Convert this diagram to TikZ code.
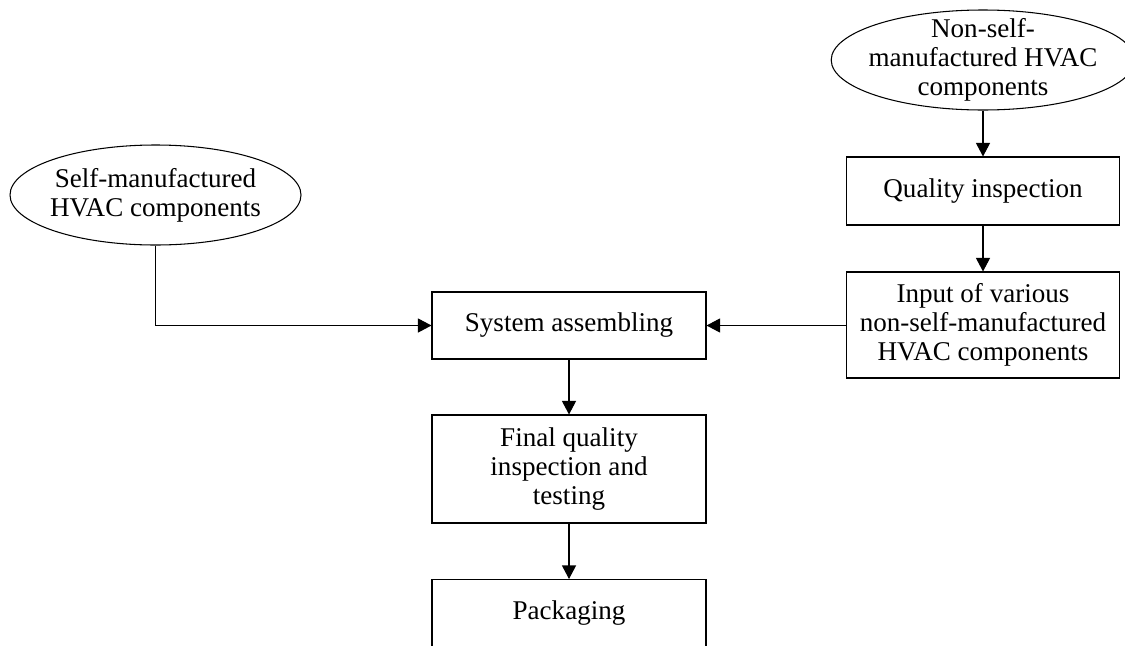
\documentclass[tikz,border=0pt]{standalone}
\usepackage{fontspec}
\setmainfont{Liberation Serif}
\usetikzlibrary{positioning}
\usetikzlibrary{shapes.geometric}
\usetikzlibrary{arrows.meta}

\begin{document}
\begin{tikzpicture}[line width=0.6pt, font=\fontsize{15.4}{16.6}\selectfont,
        box/.style={rectangle, draw, align=center, inner sep=0pt, minimum width=5.46cm},
        oval/.style={ellipse, draw, align=center, inner sep=-4pt},
        arr/.style={-{Triangle[length=0.27cm, width=0.28cm]}}]
        \clip (0, 0) rectangle (22.5, -12.9);

        \node[oval, minimum width=5.82cm, minimum height=2.0cm] (selfcomp) at (3.11, -3.9) {Self-manufactured\\HVAC components};
        \node[oval, minimum width=5.76cm, minimum height=2.0cm] (nonself) at (19.66, -1.2) {Non-self-\\manufactured HVAC\\components};
        \node[box, minimum height=1.36cm] (quality) at (19.66, -3.82) {Quality inspection};
        \node[box, minimum height=2.12cm] (input) at (19.66, -6.5) {Input of various\\non-self-manufactured\\HVAC components};
        \node[box, minimum width=5.48cm, minimum height=1.34cm] (assembly) at (11.38, -6.51) {System assembling};
        \node[box, minimum width=5.48cm, minimum height=2.16cm] (final) at (11.38, -9.38) {Final quality\\inspection and\\testing};
        \node[box, minimum width=5.48cm, minimum height=1.36cm] (packing) at (11.38, -12.27) {Packaging};

        \draw[arr] (nonself) -- (quality);
        \draw[arr] (quality) -- (input);
        \draw[arr] (selfcomp.south) |- (assembly.west);
        \draw[arr] (input.west |- assembly) -- (assembly.east);
        \draw[arr] (assembly) -- (final);
        \draw[arr] (final) -- (packing);
    \end{tikzpicture}
\end{document}
